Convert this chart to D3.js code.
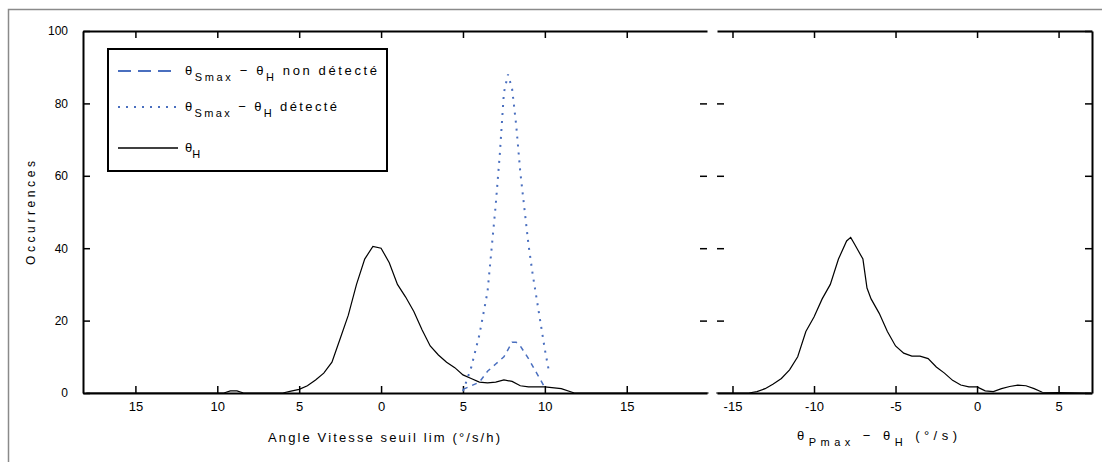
<!DOCTYPE html>
<html>
<head>
<meta charset="utf-8">
<script src="https://cdn.jsdelivr.net/npm/d3@7"></script>
<style>
  html, body { margin: 0; padding: 0; background: #fff; }
  svg { display: block; font-family: "Liberation Sans", Arial, sans-serif; }
</style>
</head>
<body>
<svg id="chart" width="1102" height="462"></svg>
<script>
// ---------- DATA ----------
// Left panel: black curve (theta_H)
const hX = [-18, -9.6, -9.2, -8.8, -8.4, -6, -5.5, -5, -4.5, -4, -3.5, -3, -2.5, -2, -1.5, -1, -0.5, 0, 0.5, 1, 1.5, 2, 2.5, 3, 3.5, 4, 4.5, 5, 5.5, 6, 6.5, 7, 7.5, 8, 8.5, 9, 10, 11, 11.8, 20];
const hY = [0, 0, 0.6, 0.6, 0, 0, 0.5, 1, 2, 3.6, 5.5, 8.5, 15, 21.5, 30, 37, 40.5, 40, 36, 30, 26.5, 22.5, 17.5, 13, 10.5, 8.5, 7, 5, 4, 3, 2.8, 3, 3.6, 3.2, 2, 1.7, 1.7, 1.2, 0, 0];

// Left panel: blue dotted (détecté)
const detX = [5.0, 5.5, 6.0, 6.5, 6.75, 7.0, 7.25, 7.5, 7.75, 8.0, 8.25, 8.5, 9.0, 9.25, 9.75, 10.0, 10.25];
const detY = [0.5, 7, 16, 28, 40, 52, 66, 83, 88, 84, 74, 61, 41, 33, 19, 12, 6];

// Left panel: blue dashed (non détecté)
const nonX = [5.0, 5.5, 6.0, 6.5, 7.0, 7.5, 8.0, 8.25, 8.5, 9.0, 9.5, 9.75, 10.0];
const nonY = [1, 2, 3, 6, 8, 10, 14, 14, 13, 9.5, 5.5, 3.5, 1.5];

// Right panel: black curve
const rX = [-16, -14, -13.5, -13, -12.5, -12, -11.5, -11, -10.5, -10, -9.5, -9, -8.5, -8, -7.75, -7.5, -7, -6.75, -6.5, -6, -5.5, -5, -4.5, -4, -3.5, -3, -2.5, -2, -1.5, -1, -0.5, 0, 0.5, 1, 1.5, 2, 2.5, 3, 3.5, 4, 7];
const rY = [0, 0, 0.4, 1.2, 2.5, 4, 6.4, 10, 17, 21, 26, 30, 37, 42, 43, 41, 37, 29, 26, 22, 17, 13, 11, 10.2, 10.2, 9.5, 7.2, 5.5, 3.5, 2.2, 1.7, 1.7, 0.6, 0.4, 1.2, 1.8, 2.2, 2.0, 1.2, 0.2, 0];

// Ticks
const yTicks = [0, 20, 40, 60, 80, 100];
const leftXTicks = [-15, -10, -5, 0, 5, 10, 15];
const leftXTickLabels = ["15", "10", "5", "0", "5", "10", "15"];
const rightXTicks = [-15, -10, -5, 0, 5];
const rightXTickLabels = ["-15", "-10", "-5", "0", "5"];

// ---------- DRAW ----------
const svg = d3.select("#chart");
const yTop = 31, yBot = 393;
const L = { x0: 83, x1: 707 };
const R = { x0: 717, x1: 1092 };
const blue = "#4a6fbf";

// outer frame
svg.append("rect").attr("x", 8.5).attr("y", 9.5).attr("width", 1100).attr("height", 460)
  .attr("fill", "none").attr("stroke", "#8a8a8a").attr("stroke-width", 1.5);

const y = d3.scaleLinear().domain([0, 100]).range([yBot, yTop]);
const xL = d3.scaleLinear().domain([-18.2, 19.9]).range([L.x0, L.x1]);
const xR = d3.scaleLinear().domain([-15.95, 7.05]).range([R.x0, R.x1]);

function styleAxis(g, showDomain, fs) {
  g.selectAll(".tick line").attr("stroke", "#000").attr("stroke-width", 1.5);
  g.selectAll(".tick text").attr("fill", "#000").attr("font-size", fs || 12);
  if (showDomain) g.select(".domain").attr("stroke", "#000").attr("stroke-width", 2);
  else g.select(".domain").remove();
}

// ---- Left panel axes ----
const gL = svg.append("g");
gL.append("g").attr("transform", `translate(0,${yBot})`)
  .call(d3.axisBottom(xL).tickValues(leftXTicks).tickSize(-7).tickSizeOuter(0).tickPadding(9)
    .tickFormat((d, i) => leftXTickLabels[i]))
  .call(g => styleAxis(g, true, 13));
gL.append("g").attr("transform", `translate(0,${yTop})`)
  .call(d3.axisTop(xL).tickValues(leftXTicks).tickSize(-7).tickSizeOuter(0).tickFormat(""))
  .call(g => styleAxis(g, true));
gL.append("g").attr("transform", `translate(${L.x0},0)`)
  .call(d3.axisLeft(y).tickValues(yTicks).tickSize(-7).tickSizeOuter(0).tickPadding(15))
  .call(g => styleAxis(g, true, 12));
gL.append("g").attr("transform", `translate(${L.x1},0)`)
  .call(d3.axisRight(y).tickValues(yTicks.slice(1, -1)).tickSize(-7).tickSizeOuter(0).tickFormat(""))
  .call(g => styleAxis(g, false));

// ---- Right panel axes ----
const gR = svg.append("g");
gR.append("g").attr("transform", `translate(0,${yBot})`)
  .call(d3.axisBottom(xR).tickValues(rightXTicks).tickSize(-7).tickSizeOuter(0).tickPadding(9)
    .tickFormat((d, i) => rightXTickLabels[i]))
  .call(g => styleAxis(g, true, 13));
gR.append("g").attr("transform", `translate(0,${yTop})`)
  .call(d3.axisTop(xR).tickValues(rightXTicks).tickSize(-7).tickSizeOuter(0).tickFormat(""))
  .call(g => styleAxis(g, true));
gR.append("g").attr("transform", `translate(${R.x0},0)`)
  .call(d3.axisLeft(y).tickValues(yTicks.slice(1, -1)).tickSize(-7).tickSizeOuter(0).tickFormat(""))
  .call(g => styleAxis(g, false));
gR.append("g").attr("transform", `translate(${R.x1},0)`)
  .call(d3.axisRight(y).tickValues(yTicks).tickSize(-7).tickSizeOuter(0).tickFormat(""))
  .call(g => styleAxis(g, true));

// ---- Curves ----
const lineL = d3.line().x(d => xL(d[0])).y(d => y(d[1]));
const lineR = d3.line().x(d => xR(d[0])).y(d => y(d[1]));
const zip = (a, b) => a.map((v, i) => [v, b[i]]);

const plotL = svg.append("g");
plotL.append("path").datum(zip(hX, hY)).attr("d", lineL)
  .attr("fill", "none").attr("stroke", "#000").attr("stroke-width", 1.2);
plotL.append("path").datum(zip(nonX, nonY)).attr("d", lineL)
  .attr("fill", "none").attr("stroke", blue).attr("stroke-width", 1.5).attr("stroke-dasharray", "5,5");
plotL.append("path").datum(zip(detX, detY)).attr("d", lineL)
  .attr("fill", "none").attr("stroke", blue).attr("stroke-width", 2).attr("stroke-dasharray", "2,6");

svg.append("path").datum(zip(rX, rY)).attr("d", lineR)
  .attr("fill", "none").attr("stroke", "#000").attr("stroke-width", 1.2);

// ---- Axis titles ----
svg.append("text").attr("transform", "translate(35,213) rotate(-90)")
  .attr("text-anchor", "middle").attr("font-size", 12).attr("textLength", 104)
  .attr("lengthAdjust", "spacing").text("Occurrences");

svg.append("text").attr("x", 268).attr("y", 442)
  .attr("font-size", 13).attr("textLength", 232).attr("lengthAdjust", "spacing")
  .text("Angle Vitesse seuil lim (°/s/h)");

const rt = svg.append("text").attr("x", 797).attr("y", 440).attr("font-size", 13)
  .attr("textLength", 160).attr("lengthAdjust", "spacing");
rt.append("tspan").text("θ");
rt.append("tspan").attr("baseline-shift", "sub").attr("font-size", 11).text("Pmax");
rt.append("tspan").text(" − θ");
rt.append("tspan").attr("baseline-shift", "sub").attr("font-size", 11).text("H");
rt.append("tspan").text("    (°/s)");

// ---- Legend ----
const lg = svg.append("g");
lg.append("rect").attr("x", 108).attr("y", 49).attr("width", 279).attr("height", 122)
  .attr("fill", "#fff").attr("stroke", "#000").attr("stroke-width", 2);
const legendItems = [
  { y: 71, color: blue, dash: "13,7", w: 1.8, main: "non détecté", hasDiff: true, len: 192 },
  { y: 107, color: blue, dash: "2,6", w: 2, main: "détecté", hasDiff: true, len: 152 },
  { y: 148, color: "#000", dash: null, w: 1.5, main: "", hasDiff: false, len: 0 }
];
legendItems.forEach(it => {
  const l = lg.append("line").attr("x1", 118).attr("x2", 178).attr("y1", it.y).attr("y2", it.y)
    .attr("stroke", it.color).attr("stroke-width", it.w);
  if (it.dash) l.attr("stroke-dasharray", it.dash);
  const t = lg.append("text").attr("x", 185).attr("y", it.y + 4).attr("font-size", 13);
  if (it.hasDiff) {
    t.attr("textLength", it.len).attr("lengthAdjust", "spacing");
    t.append("tspan").text("θ");
    t.append("tspan").attr("baseline-shift", "sub").attr("font-size", 11).text("Smax");
    t.append("tspan").text(" − θ");
    t.append("tspan").attr("baseline-shift", "sub").attr("font-size", 11).text("H");
    t.append("tspan").text("    " + it.main);
  } else {
    t.append("tspan").text("θ");
    t.append("tspan").attr("baseline-shift", "sub").attr("font-size", 11).text("H");
  }
});
</script>
</body>
</html>
